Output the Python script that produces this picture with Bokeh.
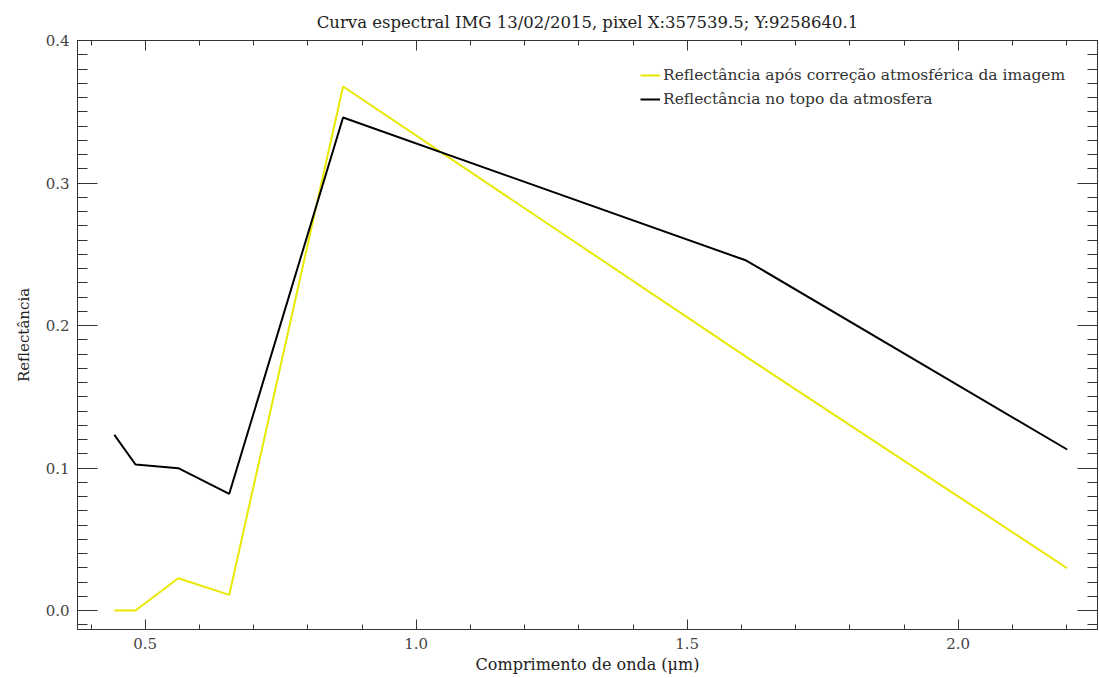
import numpy as np
from bokeh.plotting import figure
from bokeh.models import (LinearAxis, FixedTicker, PrintfTickFormatter, Range1d,
                          Legend, LegendItem, ColumnDataSource)
from bokeh.embed import file_html
from bokeh.resources import INLINE

# ---- data ----
wavelength = [0.443, 0.482, 0.561, 0.655, 0.865, 1.609, 2.201]
refl_corrected = [0.000, 0.000, 0.0227, 0.0110, 0.3677, 0.1780, 0.0297]
refl_toa = [0.1233, 0.1025, 0.0999, 0.0819, 0.3460, 0.2456, 0.1130]

x_major = [0.5, 1.0, 1.5, 2.0]
y_major = [0.0, 0.1, 0.2, 0.3, 0.4]

title_text = "Curva espectral IMG 13/02/2015, pixel X:357539.5; Y:9258640.1"
x_label = "Comprimento de onda (\u03bcm)"
y_label = "Reflect\u00e2ncia"
label_corr = "Reflect\u00e2ncia ap\u00f3s corre\u00e7\u00e3o atmosf\u00e9rica da imagem"
label_toa = "Reflect\u00e2ncia no topo da atmosfera"

SERIF = "DejaVu Serif"
AX_COLOR = "#333333"

p = figure(width=1099, height=678, output_backend="svg", toolbar_location=None,
           x_axis_type=None, y_axis_type=None,
           x_range=Range1d(0.375, 2.257), y_range=Range1d(-0.0133, 0.4),
           min_border_left=77, min_border_right=2, min_border_top=40,
           min_border_bottom=49)
p.xgrid.visible = False
p.ygrid.visible = False
p.outline_line_color = AX_COLOR
p.background_fill_color = "white"
p.border_fill_color = "white"

p.title.text = title_text
p.title.align = "center"
p.title.text_font = SERIF
p.title.text_font_size = "16.5px"
p.title.text_font_style = "normal"
p.title.text_color = "#222222"
p.title.standoff = 18

x_minor = list(np.round(np.arange(0.4, 2.25, 0.1), 2))
y_minor = list(np.round(np.arange(-0.01, 0.401, 0.01), 3))
xt = FixedTicker(ticks=x_major, minor_ticks=x_minor)
yt = FixedTicker(ticks=y_major, minor_ticks=y_minor)


def style(ax, labels=True, major_in=10, minor_in=5):
    ax.axis_line_color = AX_COLOR
    ax.major_tick_line_color = AX_COLOR
    ax.minor_tick_line_color = AX_COLOR
    ax.major_tick_in = major_in
    ax.major_tick_out = 0
    ax.minor_tick_in = minor_in
    ax.minor_tick_out = 0
    ax.formatter = PrintfTickFormatter(format="%.1f")
    if labels:
        ax.major_label_text_font = SERIF
        ax.major_label_text_font_size = "15px"
        ax.major_label_text_color = "#444444"
        ax.major_label_standoff = 8
        ax.axis_label_text_font = SERIF
        ax.axis_label_text_font_size = "16px"
        ax.axis_label_text_font_style = "normal"
        ax.axis_label_text_color = "#222222"
    else:
        ticks = ax.ticker.ticks
        ax.major_label_overrides = {t: "" for t in ticks}
        ax.major_label_standoff = 0


bottom = LinearAxis(ticker=xt, axis_label=x_label)
style(bottom, True, 10, 5)
bottom.axis_label_standoff = 3
p.add_layout(bottom, "below")

top = LinearAxis(ticker=xt)
style(top, False, 10, 5)
p.add_layout(top, "above")

left = LinearAxis(ticker=yt, axis_label=y_label)
style(left, True, 20, 10)
left.axis_label_standoff = 10
left.axis_label_text_font_size = "15px"
p.add_layout(left, "left")

right = LinearAxis(ticker=yt)
style(right, False, 20, 10)
p.add_layout(right, "right")

src = ColumnDataSource(dict(x=wavelength, corr=refl_corrected, toa=refl_toa))
r1 = p.line("x", "corr", source=src, line_color="#e8e800", line_width=2)
r2 = p.line("x", "toa", source=src, line_color="black", line_width=2)

legend = Legend(items=[LegendItem(label=label_corr, renderers=[r1]),
                       LegendItem(label=label_toa, renderers=[r2])],
                location=(563, 518), padding=0, margin=0, spacing=0,
                border_line_color=None, background_fill_alpha=0,
                glyph_width=20, glyph_height=24, label_height=24,
                label_standoff=3, label_text_font=SERIF,
                label_text_font_size="15.5px", label_text_color="#333333")
p.add_layout(legend, "center")

open("out.html", "w").write(file_html(p, INLINE))
